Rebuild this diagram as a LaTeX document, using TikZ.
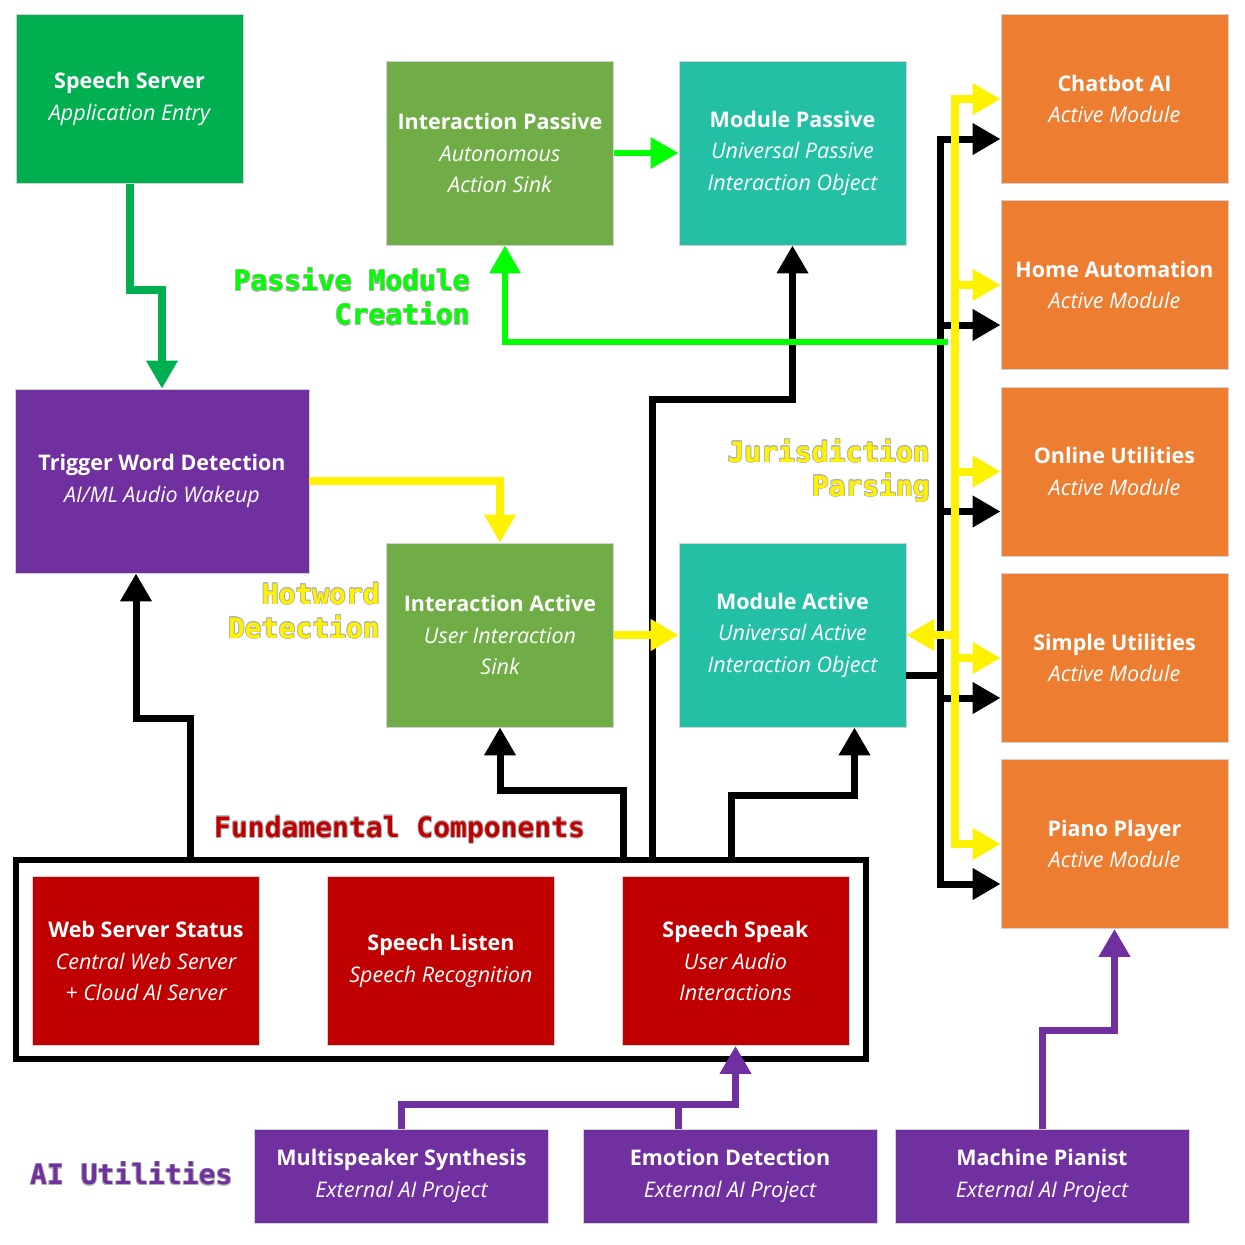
\documentclass[tikz,border=0pt]{standalone}
\usepackage{fontspec}
\setmainfont{Open Sans}
\newfontfamily\lblfont{DejaVu Sans Mono}
\usepackage{contour}
\usetikzlibrary{arrows.meta,positioning}
\contourlength{0.7pt}
\definecolor{srvgreen}{RGB}{0,176,80}
\definecolor{brgreen}{RGB}{0,255,0}
\definecolor{olive}{RGB}{112,173,71}
\definecolor{teal}{RGB}{36,192,166}
\definecolor{orng}{RGB}{237,125,49}
\definecolor{purp}{RGB}{112,48,160}
\definecolor{dred}{RGB}{192,0,0}
\newcommand{\outl}[1]{\contour{gray!60}{#1}}

\begin{document}
\begin{tikzpicture}[
    x=1pt, y=-1pt,
    box/.style={draw=gray!35, line width=0.8pt, text=white, align=center,
                inner sep=0pt, font=\fontsize{21.5}{31.5}\selectfont},
    wbox/.style={box, minimum width=227pt, minimum height=169pt},
    tbox/.style={box, minimum width=227pt, minimum height=184pt},
    lbox/.style={box, minimum width=294pt, minimum height=94pt},
    rbox/.style={box, minimum width=227pt, minimum height=169pt, fill=dred},
    lbl/.style={font=\lblfont\bfseries\fontsize{28}{34}\selectfont, align=right, inner sep=0pt},
    tip/.style={-{Triangle[length=28pt, width=30pt]}},
    blk/.style={tip, line width=7pt, black},
    yel/.style={tip, line width=8pt, yellow},
    grn/.style={tip, line width=6pt, brgreen}
  ]

  \useasboundingbox (0,0) rectangle (1245,1245);

  % top row
  \node[wbox, fill=srvgreen] (server) at (129.5,99) {{\bfseries Speech Server}\\{\itshape Application Entry}};
  \node[tbox, fill=olive] (ipassive) at (500,153) {{\bfseries Interaction Passive}\\{\itshape Autonomous}\\{\itshape Action Sink}};
  \node[tbox, fill=teal] (mpassive) at (792.5,153) {{\bfseries Module Passive}\\{\itshape Universal Passive}\\{\itshape Interaction Object}};

  % middle row
  \node[box, fill=purp, minimum width=294pt, minimum height=184pt] (trigger) at (162,481) {{\bfseries Trigger Word Detection}\\{\itshape AI/ML Audio Wakeup}};
  \node[tbox, fill=olive] (iactive) at (500,635) {{\bfseries Interaction Active}\\{\itshape User Interaction}\\{\itshape Sink}};
  \node[tbox, fill=teal] (mactive) at (792.5,635) {{\bfseries Module Active}\\{\itshape Universal Active}\\{\itshape Interaction Object}};

  % active modules
  \node[wbox, fill=orng] (chat) at (1114.5,99) {{\bfseries Chatbot AI}\\{\itshape Active Module}};
  \node[wbox, fill=orng] (home) at (1114.5,285) {{\bfseries Home Automation}\\{\itshape Active Module}};
  \node[wbox, fill=orng] (online) at (1114.5,471.5) {{\bfseries Online Utilities}\\{\itshape Active Module}};
  \node[wbox, fill=orng] (simple) at (1114.5,658) {{\bfseries Simple Utilities}\\{\itshape Active Module}};
  \node[wbox, fill=orng] (piano) at (1114.5,844) {{\bfseries Piano Player}\\{\itshape Active Module}};

  % fundamental components
  \node[draw, line width=6pt, minimum width=850pt, minimum height=199pt, inner sep=0pt] (frame) at (441,959.5) {};
  \node[rbox] (web) at (146,961) {{\bfseries Web Server Status}\\{\itshape Central Web Server}\\{\itshape + Cloud AI Server}};
  \node[rbox] (listen) at (441,961) {{\bfseries Speech Listen}\\{\itshape Speech Recognition}};
  \node[rbox] (speak) at (735.5,961) {{\bfseries Speech Speak}\\{\itshape User Audio}\\{\itshape Interactions}};

  % ai utilities
  \node[lbox, fill=purp] (multi) at (401.5,1176) {{\bfseries Multispeaker Synthesis}\\{\itshape External AI Project}};
  \node[lbox, fill=purp] (emotion) at (730,1176) {{\bfseries Emotion Detection}\\{\itshape External AI Project}};
  \node[lbox, fill=purp] (pianist) at (1042,1176) {{\bfseries Machine Pianist}\\{\itshape External AI Project}};

  % labels
  \node[lbl, text=brgreen, anchor=east] (lpassive) at (470,297) {\outl{Passive Module}\\\outl{Creation}};
  \node[lbl, text=yellow, anchor=east] (ljuris) at (930,471) {\outl{Jurisdiction}\\\outl{Parsing}};
  \node[lbl, text=yellow, anchor=east] (lhot) at (380,611) {\outl{Hotword}\\\outl{Detection}};
  \node[lbl, text=dred, anchor=west] (lfund) at (214,830) {\outl{Fundamental Components}};
  \node[lbl, text=purp, anchor=west] (lai) at (30,1174) {\outl{AI Utilities}};

  % connectors
  \coordinate (f1) at (190,860);
  \coordinate (f2) at (623,860);
  \coordinate (f3) at (652,860);
  \coordinate (f4) at (731,860);
  \coordinate (bus) at (940,500);
  \coordinate (ybus) at (955,470);

  \draw[tip, line width=8pt, srvgreen] (server.south) -- ++(0,106) -| (trigger.north);

  \draw[blk] (f1) -- ++(0,-142) -| ([xshift=-26pt]trigger.south);
  \draw[blk] (f2) -- ++(0,-70) -| (iactive.south);
  \draw[blk] (f3) -- ++(0,-461) -| (mpassive.south);
  \draw[blk] (f4) -- ++(0,-65) -| ([xshift=62pt]mactive.south);

  % black bus
  \draw[line width=7pt] ([yshift=-40pt]mactive.east) -- ([yshift=-40pt]mactive.east -| bus);
  \draw[blk] (bus) |- ([yshift=-40pt]chat.west);
  \draw[blk] (bus) |- ([yshift=-40pt]piano.west);
  \foreach \m in {home,online,simple}
    \draw[blk] ([yshift=-40pt]\m.west -| bus) -- ([yshift=-40pt]\m.west);

  % green
  \draw[grn] (948,342) -| ([xshift=5pt]ipassive.south);
  \draw[grn] (ipassive) -- (mpassive);

  % yellow bus
  \draw[yel] (trigger.east) -| (iactive.north);
  \draw[yel] (iactive) -- (mactive);
  \draw[yel] (ybus) |- (chat.west);
  \draw[yel] (ybus) |- (piano.west);
  \foreach \m in {home,online,simple}
    \draw[yel] (\m.west -| ybus) -- (\m.west);
  \draw[yel] (mactive.east -| ybus) -- (mactive.east);

  % purple
  \draw[tip, line width=7pt, purp] (multi.north) -- ++(0,-24) -| (speak.south);
  \draw[line width=7pt, purp] ([xshift=-52pt]emotion.north) -- ++(0,-24);
  \draw[tip, line width=7pt, purp] (pianist.north) -- ++(0,-98) -| (piano.south);

\end{tikzpicture}
\end{document}
